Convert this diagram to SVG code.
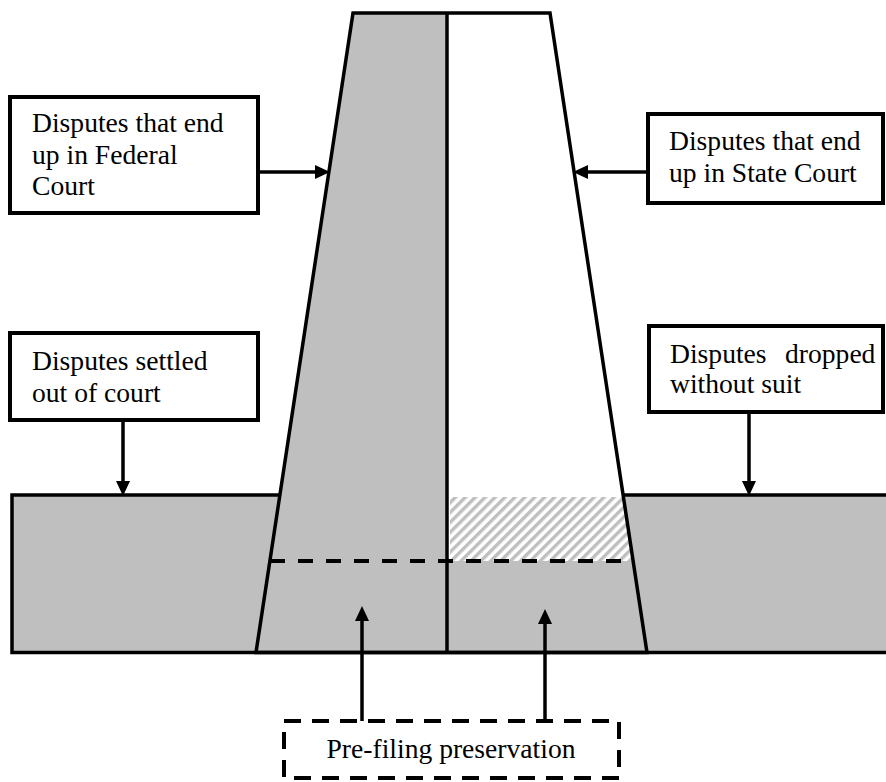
<svg xmlns="http://www.w3.org/2000/svg" width="886" height="782" viewBox="0 0 886 782">
<style>
.t{font-family:"Liberation Serif","Times New Roman",serif;font-size:27.6px;fill:#000}
.box{fill:#fff;stroke:#000;stroke-width:4}
.dbox{fill:#fff;stroke:#000;stroke-width:4;stroke-dasharray:17 11}
.gray{fill:#bfbfbf}
.edge{fill:none;stroke:#000;stroke-width:3.5}
.conn{stroke:#000;stroke-width:3.5;fill:none;marker-end:url(#ah)}
</style>
<defs>
<marker id="ah" markerUnits="userSpaceOnUse" markerWidth="15" markerHeight="14" refX="4" refY="7" orient="auto">
<path d="M0,0 L15,7 L0,14 z" fill="#000"/>
</marker>
<pattern id="hatch" patternUnits="userSpaceOnUse" width="7" height="7" patternTransform="rotate(45)">
<rect width="7" height="7" fill="#fff"/>
<rect width="3.4" height="7" fill="#bfbfbf"/>
</pattern>
</defs>

<g id="funnel">
<polygon id="settled-band" class="gray" points="12,495 280,495 256,652.5 12,652.5"/>
<polygon id="dropped-band" class="gray" points="623,495 890,495 890,652.5 647,652.5"/>
<polygon class="gray" points="353,13 447,13 447,652.5 256,652.5"/>
<polygon fill="url(#hatch)" points="450,497 623,497 633,561 450,561"/>
<polygon class="gray" points="447,561 633,561 647,652.5 447,652.5"/>
<polyline class="edge" points="280,495 12,495 12,652.5 890,652.5"/>
<line class="edge" x1="623" y1="495" x2="890" y2="495"/>
<polygon class="edge" points="353,13 550,13 647,652.5 256,652.5"/>
<line class="edge" x1="447" y1="13" x2="447" y2="652.5" stroke-width="3"/>
<line x1="270" y1="561" x2="633" y2="561" stroke="#000" stroke-width="4" stroke-dasharray="15 13"/>
</g>

<g id="federal">
<rect class="box" x="10" y="97" width="248" height="116"/>
<text class="t" x="32" y="132">Disputes that end</text>
<text class="t" x="32" y="164">up in Federal</text>
<text class="t" x="32" y="195">Court</text>
</g>

<g id="state">
<rect class="box" x="648" y="114" width="235" height="89"/>
<text class="t" x="669" y="150">Disputes that end</text>
<text class="t" x="669" y="182">up in State Court</text>
</g>

<g id="settled">
<rect class="box" x="10" y="333" width="248" height="87"/>
<text class="t" x="32" y="370">Disputes settled</text>
<text class="t" x="32" y="402">out of court</text>
</g>

<g id="dropped">
<rect class="box" x="649" y="326" width="234" height="86"/>
<text class="t" x="670" y="363">Disputes<tspan x="785">dropped</tspan></text>
<text class="t" x="670" y="393">without suit</text>
</g>

<g id="prefiling">
<rect class="dbox" x="284" y="721" width="335" height="57"/>
<text class="t" x="451" y="758" text-anchor="middle">Pre-filing preservation</text>
</g>

<g id="connectors">
<line class="conn" x1="258" y1="172" x2="319" y2="172"/>
<line class="conn" x1="648" y1="172" x2="584" y2="172"/>
<line class="conn" x1="123" y1="420" x2="123" y2="485"/>
<line class="conn" x1="749" y1="412" x2="749" y2="485"/>
<line class="conn" x1="362" y1="721" x2="362" y2="617"/>
<line class="conn" x1="545" y1="721" x2="545" y2="620"/>
</g>
</svg>
